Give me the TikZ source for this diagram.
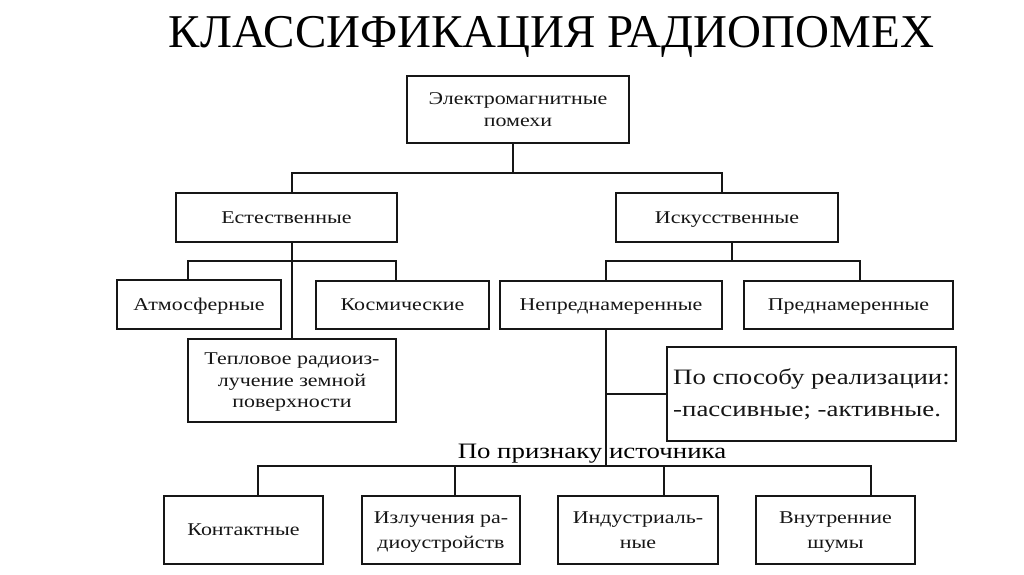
\documentclass[tikz,border=0pt]{standalone}
\usepackage{fontspec}
\setmainfont{Liberation Serif}
\newfontfamily\dfont[FakeStretch=1.22]{Liberation Serif}
\newfontfamily\tfont{Liberation Serif}
\usetikzlibrary{calc}
\definecolor{ink}{HTML}{161616}
\newcommand\lstr{\vphantom{Йу}}
\tikzset{
  box/.style={draw=ink, line width=1.3pt, rectangle, inner sep=0pt, align=center,
    font=\dfont\fontsize{18}{22}\selectfont, text=ink},
  wire/.style={draw=ink, line width=1.3pt},
  thickwire/.style={draw=ink, line width=2.2pt},
}
\begin{document}
\begin{tikzpicture}[x=1pt,y=-1pt]
\useasboundingbox (0,0) rectangle (1024,574);
\fill[white] (0,0) rectangle (1024,574);

\node[anchor=base, font=\tfont\fontsize{47}{50}\selectfont, text=black, inner sep=0pt] (title) at (551.5,47) {КЛАССИФИКАЦИЯ РАДИОПОМЕХ};

\node[box, minimum width=222, minimum height=67] (em) at (518,109.5) {\lstr Электромагнитные\\\lstr помехи};
\node[box, minimum width=221, minimum height=49] (est) at (286.5,217.5) {\lstr Естественные};
\node[box, minimum width=222, minimum height=49] (isk) at (727,217.5) {\lstr Искусственные};
\node[box, minimum width=164, minimum height=49] (atm) at (199,304.5) {\lstr Атмосферные};
\node[box, minimum width=173, minimum height=48] (kos) at (402.5,305) {\lstr Космические};
\node[box, minimum width=222, minimum height=48] (nep) at (611,305) {\lstr Непреднамеренные};
\node[box, minimum width=209, minimum height=48] (pred) at (848.5,305) {\lstr Преднамеренные};
\node[box, minimum width=208, minimum height=83, font=\dfont\fontsize{18}{21.5}\selectfont] (tep) at (292,380.5) {\lstr Тепловое радиоиз-\\\lstr лучение земной\\\lstr поверхности};
\node[box, line width=2.2pt, minimum width=289, minimum height=94, align=left, font=\dfont\fontsize{22}{32}\selectfont] (spos) at (811.5,394) {\lstr По способу реализации:\\\lstr -пассивные; -активные.};
\node[font=\dfont\fontsize{22}{26}\selectfont, text=black, inner sep=0pt] (src) at (592,452) {\lstr По признаку источника};

\node[box, minimum width=159, minimum height=68, font=\dfont\fontsize{18}{25}\selectfont] (kont) at (243.5,530) {\lstr Контактные};
\node[box, minimum width=158, minimum height=68, font=\dfont\fontsize{18}{25}\selectfont] (izl) at (441,530) {\lstr Излучения ра-\\\lstr диоустройств};
\node[box, minimum width=160, minimum height=68, font=\dfont\fontsize{18}{25}\selectfont] (ind) at (638,530) {\lstr Индустриаль-\\\lstr ные};
\node[box, minimum width=159, minimum height=68, font=\dfont\fontsize{18}{25}\selectfont] (vnu) at (835.5,530) {\lstr Внутренние\\\lstr шумы};

\coordinate (t1) at (513,173);
\coordinate (t2) at (0,261);
\coordinate (t3) at (0,466);

% top level
\draw[wire] (t1 |- em.south) -- (t1);
\draw[wire] (tep.north |- est.north) -- (tep.north |- t1) -- ([xshift=-5pt]isk.north |- t1) -- ([xshift=-5pt]isk.north);
% natural branch
\draw[wire] (tep.north |- est.south) -- (tep.north);
\draw[wire] ([xshift=-11pt]atm.north) -- ([xshift=-11pt]atm.north |- t2) -- ([xshift=-6.5pt]kos.north |- t2) -- ([xshift=-6.5pt]kos.north);
% artificial branch
\draw[wire] ([xshift=5pt]isk.south) -- ([xshift=5pt]isk.south |- t2);
\draw[wire] ([xshift=-5pt]nep.north) -- ([xshift=-5pt]nep.north |- t2) -- ([xshift=11.5pt]pred.north |- t2) -- ([xshift=11.5pt]pred.north);
% unintentional
\draw[wire] ([xshift=-5pt]nep.south) -- ([xshift=-5pt]nep.south |- t3);
\draw[thickwire] ([xshift=-5pt]nep.south |- spos.west) -- (spos.west);
\draw[wire] ([xshift=14.5pt]kont.north) -- ([xshift=14.5pt]kont.north |- t3) -- ([xshift=35.5pt]vnu.north |- t3) -- ([xshift=35.5pt]vnu.north);
\draw[wire] ([xshift=14pt]izl.north) -- ([xshift=14pt]izl.north |- t3);
\draw[wire] ([xshift=26pt]ind.north) -- ([xshift=26pt]ind.north |- t3);
\end{tikzpicture}
\end{document}
